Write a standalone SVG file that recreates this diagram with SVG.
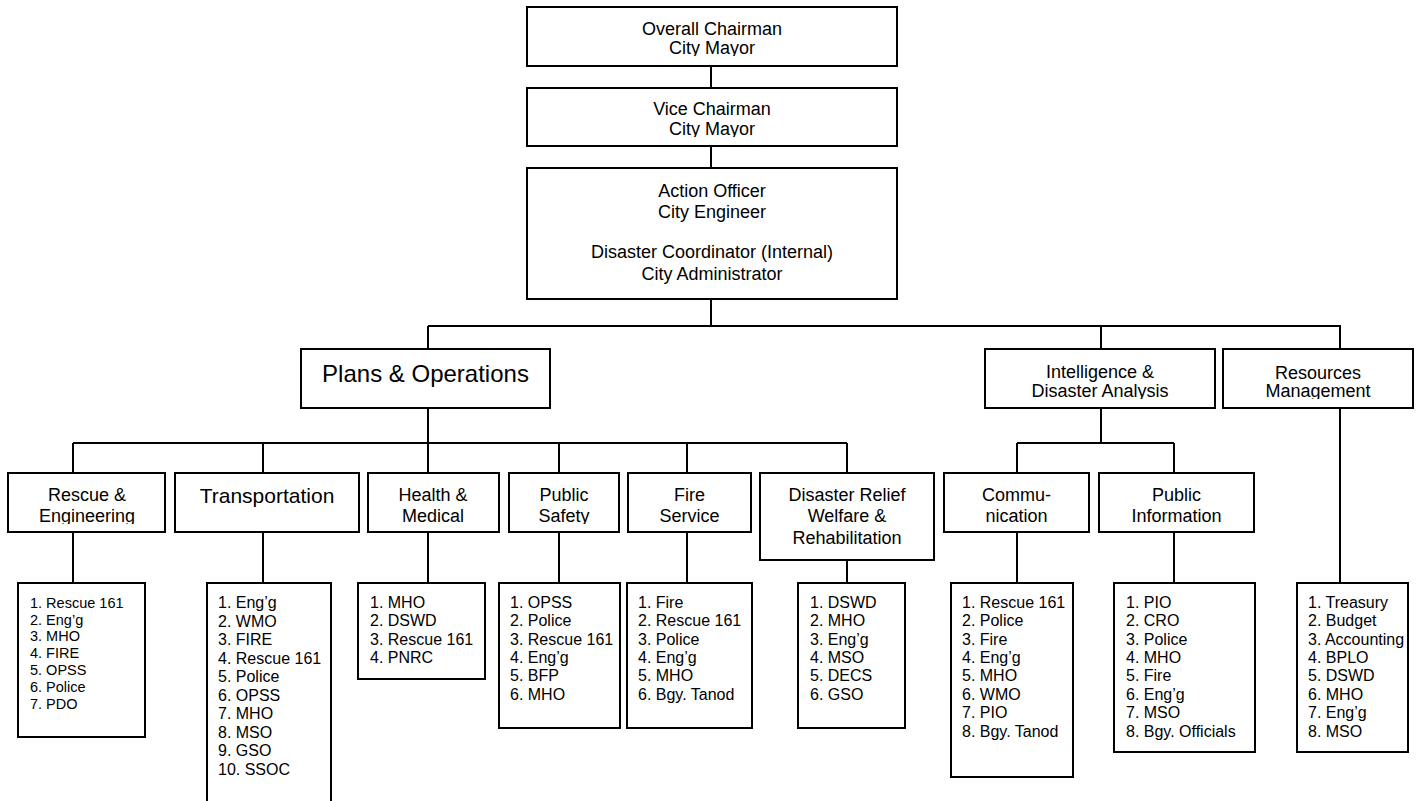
<svg xmlns="http://www.w3.org/2000/svg" width="1421" height="801" viewBox="0 0 1421 801">
<style>
.box{fill:#fff;stroke:#000;stroke-width:2}
.ln{fill:none;stroke:#000;stroke-width:2}
text{font-family:"Liberation Sans",Arial,sans-serif;fill:#000}
.t18{font-size:18px;text-anchor:middle}
.t21{font-size:21px;text-anchor:middle}
.t24{font-size:24px;text-anchor:middle}
.li{font-size:16px}
.lis{font-size:14.5px}
</style>
<defs>
<clipPath id="c1" clipPathUnits="userSpaceOnUse"><rect x="527" y="0" width="370" height="56"/></clipPath>
<clipPath id="c2" clipPathUnits="userSpaceOnUse"><rect x="527" y="88" width="370" height="49"/></clipPath>
<clipPath id="c3" clipPathUnits="userSpaceOnUse"><rect x="985" y="349" width="230" height="50"/></clipPath>
<clipPath id="c4" clipPathUnits="userSpaceOnUse"><rect x="1223" y="349" width="190" height="50"/></clipPath>
<clipPath id="c5" clipPathUnits="userSpaceOnUse"><rect x="8" y="473" width="157" height="51"/></clipPath>
<clipPath id="c6" clipPathUnits="userSpaceOnUse"><rect x="509" y="473" width="110" height="51"/></clipPath>
</defs>
<g id="connectors">
<path class="ln" d="M711 66V88M711 146V168M711 299V326M428 326H1340V349M428 326V349M1101 326V349"/>
<path class="ln" d="M428 408V443M73 443H847M73 443V473M263 443V473M428 443V473M559 443V473M687 443V473M847 443V473"/>
<path class="ln" d="M1101 408V443M1017 443H1174M1017 443V473M1174 443V473"/>
<path class="ln" d="M73 532V583M263 532V583M428 532V583M559 532V583M687 532V583M847 560V583M1017 532V583M1174 532V583M1340 408V583"/>
</g>
<g id="overall">
<rect class="box" x="527" y="7" width="370" height="59"/>
<text class="t18" x="712" y="35">Overall Chairman</text>
<text class="t18" x="712" y="54" clip-path="url(#c1)">City Mayor</text>
</g>
<g id="vice">
<rect class="box" x="527" y="88" width="370" height="58"/>
<text class="t18" x="712" y="115">Vice Chairman</text>
<text class="t18" x="712" y="135" clip-path="url(#c2)">City Mayor</text>
</g>
<g id="action">
<rect class="box" x="527" y="168" width="370" height="131"/>
<text class="t18" x="712" y="197">Action Officer</text>
<text class="t18" x="712" y="218">City Engineer</text>
<text class="t18" x="712" y="258">Disaster Coordinator (Internal)</text>
<text class="t18" x="712" y="280">City Administrator</text>
</g>
<g id="plans">
<rect class="box" x="301" y="349" width="249" height="59"/>
<text class="t24" x="425.5" y="382">Plans &amp; Operations</text>
</g>
<g id="intelligence">
<rect class="box" x="985" y="349" width="230" height="59"/>
<text class="t18" x="1100" y="378">Intelligence &amp;</text>
<text class="t18" x="1100" y="397" clip-path="url(#c3)">Disaster Analysis</text>
</g>
<g id="resources">
<rect class="box" x="1223" y="349" width="190" height="59"/>
<text class="t18" x="1318" y="379">Resources</text>
<text class="t18" x="1318" y="397" clip-path="url(#c4)">Management</text>
</g>
<g id="rescue">
<rect class="box" x="8" y="473" width="157" height="59"/>
<text class="t18" x="87" y="501">Rescue &amp;</text>
<text class="t18" x="87" y="522" clip-path="url(#c5)">Engineering</text>
</g>
<g id="transportation">
<rect class="box" x="175" y="473" width="184" height="59"/>
<text class="t21" x="267" y="503">Transportation</text>
</g>
<g id="health">
<rect class="box" x="368" y="473" width="131" height="59"/>
<text class="t18" x="433" y="501">Health &amp;</text>
<text class="t18" x="433" y="522">Medical</text>
</g>
<g id="safety">
<rect class="box" x="509" y="473" width="110" height="59"/>
<text class="t18" x="564" y="501">Public</text>
<text class="t18" x="564" y="522" clip-path="url(#c6)">Safety</text>
</g>
<g id="fire">
<rect class="box" x="628" y="473" width="123" height="59"/>
<text class="t18" x="689.5" y="501">Fire</text>
<text class="t18" x="689.5" y="522">Service</text>
</g>
<g id="relief">
<rect class="box" x="760" y="473" width="174" height="87"/>
<text class="t18" x="847" y="501">Disaster Relief</text>
<text class="t18" x="847" y="522">Welfare &amp;</text>
<text class="t18" x="847" y="544">Rehabilitation</text>
</g>
<g id="communication">
<rect class="box" x="944" y="473" width="145" height="59"/>
<text class="t18" x="1016.5" y="501">Commu-</text>
<text class="t18" x="1016.5" y="522">nication</text>
</g>
<g id="publicinfo">
<rect class="box" x="1099" y="473" width="155" height="59"/>
<text class="t18" x="1176.5" y="501">Public</text>
<text class="t18" x="1176.5" y="522">Information</text>
</g>
<g id="rescue-list">
<rect class="box" x="18" y="583" width="127" height="154"/>
<text class="lis" x="30" y="607.7">1. Rescue 161</text>
<text class="lis" x="30" y="624.5">2. Eng’g</text>
<text class="lis" x="30" y="641.3">3. MHO</text>
<text class="lis" x="30" y="658.1">4. FIRE</text>
<text class="lis" x="30" y="674.9">5. OPSS</text>
<text class="lis" x="30" y="691.7">6. Police</text>
<text class="lis" x="30" y="708.5">7. PDO</text>
</g>
<g id="transport-list">
<rect class="box" x="207" y="583" width="124" height="230"/>
<text class="li" x="218" y="608.3">1. Eng’g</text>
<text class="li" x="218" y="626.8">2. WMO</text>
<text class="li" x="218" y="645.3">3. FIRE</text>
<text class="li" x="218" y="663.8">4. Rescue 161</text>
<text class="li" x="218" y="682.3">5. Police</text>
<text class="li" x="218" y="700.8">6. OPSS</text>
<text class="li" x="218" y="719.3">7. MHO</text>
<text class="li" x="218" y="737.8">8. MSO</text>
<text class="li" x="218" y="756.3">9. GSO</text>
<text class="li" x="218" y="774.8">10. SSOC</text>
</g>
<g id="health-list">
<rect class="box" x="358" y="583" width="127" height="96"/>
<text class="li" x="370" y="607.7">1. MHO</text>
<text class="li" x="370" y="626.1">2. DSWD</text>
<text class="li" x="370" y="644.5">3. Rescue 161</text>
<text class="li" x="370" y="662.9">4. PNRC</text>
</g>
<g id="safety-list">
<rect class="box" x="499" y="583" width="121" height="145"/>
<text class="li" x="510" y="607.7">1. OPSS</text>
<text class="li" x="510" y="626.1">2. Police</text>
<text class="li" x="510" y="644.5">3. Rescue 161</text>
<text class="li" x="510" y="662.9">4. Eng’g</text>
<text class="li" x="510" y="681.3">5. BFP</text>
<text class="li" x="510" y="699.7">6. MHO</text>
</g>
<g id="fire-list">
<rect class="box" x="627" y="583" width="125" height="145"/>
<text class="li" x="638" y="607.7">1. Fire</text>
<text class="li" x="638" y="626.1">2. Rescue 161</text>
<text class="li" x="638" y="644.5">3. Police</text>
<text class="li" x="638" y="662.9">4. Eng’g</text>
<text class="li" x="638" y="681.3">5. MHO</text>
<text class="li" x="638" y="699.7">6. Bgy. Tanod</text>
</g>
<g id="relief-list">
<rect class="box" x="798" y="583" width="107" height="145"/>
<text class="li" x="810" y="607.7">1. DSWD</text>
<text class="li" x="810" y="626.1">2. MHO</text>
<text class="li" x="810" y="644.5">3. Eng’g</text>
<text class="li" x="810" y="662.9">4. MSO</text>
<text class="li" x="810" y="681.3">5. DECS</text>
<text class="li" x="810" y="699.7">6. GSO</text>
</g>
<g id="communication-list">
<rect class="box" x="951" y="583" width="122" height="194"/>
<text class="li" x="962" y="607.7">1. Rescue 161</text>
<text class="li" x="962" y="626.1">2. Police</text>
<text class="li" x="962" y="644.5">3. Fire</text>
<text class="li" x="962" y="662.9">4. Eng’g</text>
<text class="li" x="962" y="681.3">5. MHO</text>
<text class="li" x="962" y="699.7">6. WMO</text>
<text class="li" x="962" y="718.1">7. PIO</text>
<text class="li" x="962" y="736.5">8. Bgy. Tanod</text>
</g>
<g id="publicinfo-list">
<rect class="box" x="1114" y="583" width="141" height="169"/>
<text class="li" x="1126" y="607.7">1. PIO</text>
<text class="li" x="1126" y="626.1">2. CRO</text>
<text class="li" x="1126" y="644.5">3. Police</text>
<text class="li" x="1126" y="662.9">4. MHO</text>
<text class="li" x="1126" y="681.3">5. Fire</text>
<text class="li" x="1126" y="699.7">6. Eng’g</text>
<text class="li" x="1126" y="718.1">7. MSO</text>
<text class="li" x="1126" y="736.5">8. Bgy. Officials</text>
</g>
<g id="resources-list">
<rect class="box" x="1297" y="583" width="111" height="169"/>
<text class="li" x="1308" y="607.7">1. Treasury</text>
<text class="li" x="1308" y="626.1">2. Budget</text>
<text class="li" x="1308" y="644.5">3. Accounting</text>
<text class="li" x="1308" y="662.9">4. BPLO</text>
<text class="li" x="1308" y="681.3">5. DSWD</text>
<text class="li" x="1308" y="699.7">6. MHO</text>
<text class="li" x="1308" y="718.1">7. Eng’g</text>
<text class="li" x="1308" y="736.5">8. MSO</text>
</g>
</svg>
